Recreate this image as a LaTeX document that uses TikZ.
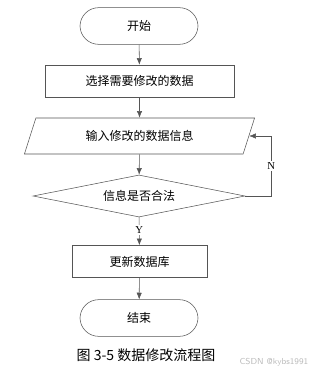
\documentclass[tikz,border=0pt]{standalone}
\usepackage{fontspec}
\setmainfont{Liberation Serif}
\newfontfamily\cjk{Noto Sans CJK SC}
\usetikzlibrary{shapes.geometric,arrows.meta}

\definecolor{linegray}{HTML}{555555}
\definecolor{markgray}{HTML}{BBBBBB}

\tikzset{
  term/.style={draw=linegray, rounded corners=14pt, minimum width=88.5pt,
    minimum height=27.5pt, inner sep=0pt, font=\cjk\fontsize{9}{10}\selectfont},
  procbox/.style={draw=linegray, minimum height=24pt, inner sep=0pt,
    font=\cjk\fontsize{9}{10}\selectfont},
  iobox/.style={draw=linegray, trapezium, trapezium left angle=62,
    trapezium right angle=118, trapezium stretches=true, minimum width=173pt,
    minimum height=27pt, inner sep=0pt, font=\cjk\fontsize{9}{10}\selectfont},
  testbox/.style={draw=linegray, diamond, aspect=5, minimum width=159pt, minimum height=31.5pt,
    inner sep=0pt, font=\cjk\fontsize{9}{10}\selectfont},
  flow/.style={draw=linegray, -{Latex[length=5pt,width=4pt]}},
  yn/.style={fill=white, inner sep=1pt, font=\fontsize{8}{9}\selectfont}
}

\begin{document}
\begin{tikzpicture}[x=0.75pt, y=-0.75pt]
\useasboundingbox (0,0) rectangle (317,374);

% flow steps
\node[term] (start) at (139,26) {开始};
\node[procbox, minimum width=141.75pt] (select) at (139.5,81) {选择需要修改的数据};
\node[iobox] (input) at (139.5,136) {输入修改的数据信息};
\node[testbox] (check) at (139,196) {信息是否合法};
\node[procbox, minimum width=101.25pt] (update) at (139.5,261.5) {更新数据库};
\node[term] (stop) at (139,318) {结束};

% arrows down
\draw[flow] (start) -- (select);
\draw[flow] (select) -- (input);
\draw[flow] (input) -- (check);
\draw[flow] (check) -- node[yn, pos=0.45] {Y} (update);
\draw[flow] (update) -- (stop);

% back to input
\draw[flow] (check.east) -- ++(26,0) |- node[yn, pos=0.25] {N} (input.east);

% caption
\node[font=\cjk\fontsize{10.5}{12}\selectfont] (caption) at (146,355) {图 3-5 数据修改流程图};
\node[font=\fontsize{6.5}{7}\selectfont\sffamily, text=markgray, anchor=east] (mark) at (313,362) {CSDN @kybs1991};

\end{tikzpicture}
\end{document}
